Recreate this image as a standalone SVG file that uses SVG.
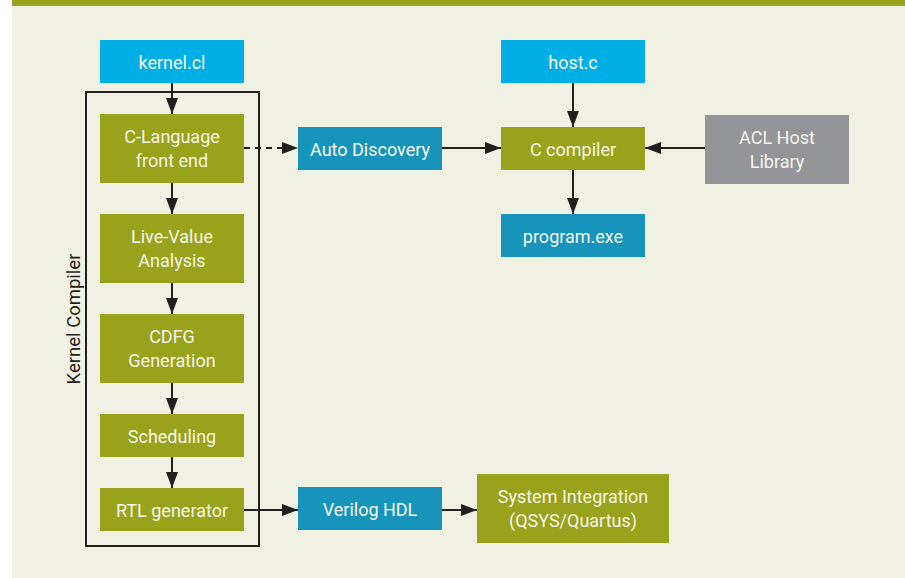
<svg xmlns="http://www.w3.org/2000/svg" width="905" height="578" viewBox="0 0 905 578">
  <style>
    .lbl { font-family: Roboto, "Liberation Sans", sans-serif; font-size: 18px; fill: #f6f6ea; text-anchor: middle; }
    .olive { fill: #98a21a; }
    .cyan { fill: #00aee6; }
    .teal { fill: #1694bb; }
    .gray { fill: #949599; }
    .edge { stroke: #231f20; stroke-width: 2; fill: none; }
    .dash { stroke-dasharray: 6 5; }
  </style>
  <defs>
    <marker id="arrow" markerUnits="userSpaceOnUse" markerWidth="16" markerHeight="12" refX="16" refY="6" orient="auto">
      <path d="M0,0 L16,6 L0,12 z" fill="#231f20"/>
    </marker>
  </defs>

  <!-- page background and header band -->
  <rect x="0" y="0" width="905" height="578" fill="#ffffff"/>
  <rect x="12" y="0" width="893" height="578" fill="#f1f1e3"/>
  <rect x="12" y="0" width="893" height="6" fill="#98a21a"/>

  <!-- kernel compiler frame -->
  <g id="kernel-compiler">
    <rect x="86" y="92" width="173" height="454" fill="none" stroke="#231f20" stroke-width="2"/>
    <text x="80" y="319" transform="rotate(-90 80 319)" font-family="Roboto, 'Liberation Sans', sans-serif" font-size="18.5" fill="#231f20" text-anchor="middle">Kernel Compiler</text>
  </g>

  <g id="edges">
    <line class="edge" x1="172" y1="83" x2="172" y2="114" marker-end="url(#arrow)"/>
    <line class="edge" x1="172" y1="183" x2="172" y2="214" marker-end="url(#arrow)"/>
    <line class="edge" x1="172" y1="283" x2="172" y2="314" marker-end="url(#arrow)"/>
    <line class="edge" x1="172" y1="383" x2="172" y2="414" marker-end="url(#arrow)"/>
    <line class="edge" x1="172" y1="457" x2="172" y2="488" marker-end="url(#arrow)"/>
    <line class="edge dash" x1="244" y1="148" x2="298" y2="148" marker-end="url(#arrow)"/>
    <line class="edge" x1="442" y1="148" x2="501" y2="148" marker-end="url(#arrow)"/>
    <line class="edge" x1="573" y1="83" x2="573" y2="127" marker-end="url(#arrow)"/>
    <line class="edge" x1="705" y1="148" x2="645" y2="148" marker-end="url(#arrow)"/>
    <line class="edge" x1="573" y1="170" x2="573" y2="214" marker-end="url(#arrow)"/>
    <line class="edge" x1="244" y1="510" x2="298" y2="510" marker-end="url(#arrow)"/>
    <line class="edge" x1="442" y1="510" x2="477" y2="510" marker-end="url(#arrow)"/>
  </g>

  <g id="kernel-cl">
    <rect class="cyan" x="100" y="40" width="144" height="43"/>
    <text class="lbl" x="172" y="69">kernel.cl</text>
  </g>
  <g id="c-language-front-end">
    <rect class="olive" x="100" y="114" width="144" height="69"/>
    <text class="lbl" x="172" y="143">C-Language</text>
    <text class="lbl" x="172" y="167">front end</text>
  </g>
  <g id="live-value-analysis">
    <rect class="olive" x="100" y="214" width="144" height="69"/>
    <text class="lbl" x="172" y="243">Live-Value</text>
    <text class="lbl" x="172" y="267">Analysis</text>
  </g>
  <g id="cdfg-generation">
    <rect class="olive" x="100" y="314" width="144" height="69"/>
    <text class="lbl" x="172" y="343">CDFG</text>
    <text class="lbl" x="172" y="367">Generation</text>
  </g>
  <g id="scheduling">
    <rect class="olive" x="100" y="414" width="144" height="43"/>
    <text class="lbl" x="172" y="443">Scheduling</text>
  </g>
  <g id="rtl-generator">
    <rect class="olive" x="100" y="488" width="144" height="43"/>
    <text class="lbl" x="172" y="517">RTL generator</text>
  </g>
  <g id="auto-discovery">
    <rect class="teal" x="298" y="127" width="144" height="43"/>
    <text class="lbl" x="370" y="156">Auto Discovery</text>
  </g>
  <g id="host-c">
    <rect class="cyan" x="501" y="40" width="144" height="43"/>
    <text class="lbl" x="573" y="69">host.c</text>
  </g>
  <g id="c-compiler">
    <rect class="olive" x="501" y="127" width="144" height="43"/>
    <text class="lbl" x="573" y="156">C compiler</text>
  </g>
  <g id="acl-host-library">
    <rect class="gray" x="705" y="115" width="144" height="69"/>
    <text class="lbl" x="777" y="144">ACL Host</text>
    <text class="lbl" x="777" y="168">Library</text>
  </g>
  <g id="program-exe">
    <rect class="teal" x="501" y="214" width="144" height="43"/>
    <text class="lbl" x="573" y="243">program.exe</text>
  </g>
  <g id="verilog-hdl">
    <rect class="teal" x="298" y="487" width="144" height="43"/>
    <text class="lbl" x="370" y="516">Verilog HDL</text>
  </g>
  <g id="system-integration">
    <rect class="olive" x="477" y="474" width="192" height="69"/>
    <text class="lbl" x="573" y="503">System Integration</text>
    <text class="lbl" x="573" y="527">(QSYS/Quartus)</text>
  </g>
</svg>
